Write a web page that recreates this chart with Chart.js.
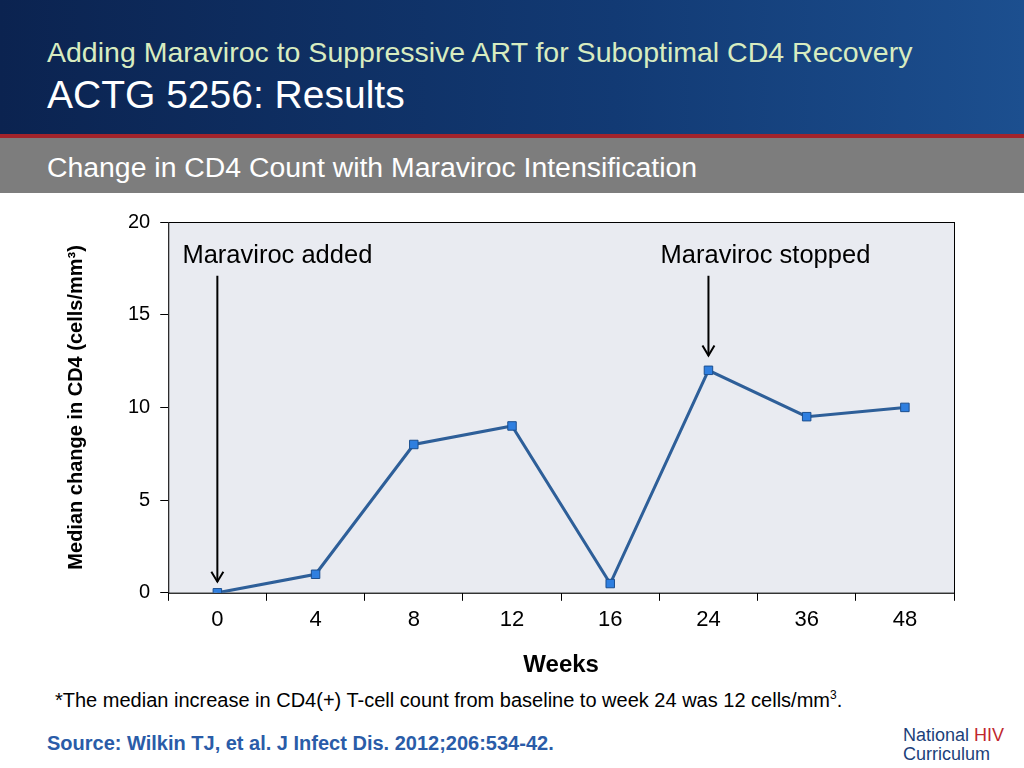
<!DOCTYPE html>
<html><head><meta charset="utf-8">
<script src="https://cdn.jsdelivr.net/npm/chart.js@4"></script>
<style>
body{margin:0;width:1024px;height:768px;position:relative;background:#fff;font-family:"Liberation Sans",Arial,sans-serif;overflow:hidden}
#hdr{position:absolute;left:0;top:0;width:1024px;height:134px;background:linear-gradient(90deg,#0b2350 0%,#123a74 60%,#1c4f8f 100%)}
#t1{position:absolute;left:47px;top:36px;font-size:28.5px;color:#d8ecc0}
#t2{position:absolute;left:47px;top:73px;font-size:39px;color:#fff}
#red{position:absolute;left:0;top:134px;width:1024px;height:4px;background:#a3242b}
#sub{position:absolute;left:0;top:138px;width:1024px;height:55px;background:#7d7d7d}
#sub span{position:absolute;left:47px;top:13px;font-size:28.4px;color:#fff}
#wrap{position:absolute;left:0;top:200px;width:1024px;height:484px}
#note{position:absolute;left:55px;top:688px;font-size:20px;color:#000}
#src{position:absolute;left:47px;top:732px;font-size:20px;font-weight:bold;color:#2a5ca8}
#logo{position:absolute;left:903px;top:726px;font-size:18px;line-height:19px;color:#1c3f7a}
</style></head><body>
<div id="hdr"><div id="t1">Adding Maraviroc to Suppressive ART for Suboptimal CD4 Recovery</div><div id="t2">ACTG 5256: Results</div></div>
<div id="red"></div>
<div id="sub"><span>Change in CD4 Count with Maraviroc Intensification</span></div>
<div id="wrap"><canvas id="c"></canvas></div>
<div id="note">*The median increase in CD4(+) T-cell count from baseline to week 24 was 12 cells/mm<sup style="font-size:12px">3</sup>.</div>
<div id="src">Source: Wilkin TJ, et al. J Infect Dis. 2012;206:534-42.</div>
<div id="logo">National <span style="color:#c0272d">HIV</span><br>Curriculum</div>
<script>
const weeks = ['0','4','8','12','16','24','36','48'];
const medianChange = [0, 1, 8, 9, 0.5, 12, 9.5, 10];
const yTicks = [0, 5, 10, 15, 20];
const notes = [
  {label: 'Maraviroc added', idx: 0, from: 17.1, to: 0.6},
  {label: 'Maraviroc stopped', idx: 5, from: 17.1, to: 12.8}
];

const annot = {
  id: 'annot',
  beforeDatasetsDraw(chart) {
    const a = chart.chartArea, ctx = chart.ctx;
    ctx.save();
    ctx.fillStyle = '#e9ebf1';
    ctx.fillRect(a.left, a.top, a.right - a.left, a.bottom - a.top);
    ctx.strokeStyle = '#000'; ctx.lineWidth = 1;
    ctx.strokeRect(a.left + 0.5, a.top + 0.5, a.right - a.left, a.bottom - a.top);
    ctx.restore();
  },
  afterDatasetsDraw(chart) {
    const ctx = chart.ctx, x = chart.scales.x, y = chart.scales.y;
    ctx.save();
    ctx.font = '25.5px "Liberation Sans", Arial';
    ctx.fillStyle = '#000'; ctx.textAlign = 'center';
    notes.forEach(n => {
      const px = x.getPixelForValue(n.idx);
      const y0 = y.getPixelForValue(n.from), y1 = y.getPixelForValue(n.to);
      ctx.fillText(n.label, n.idx === 0 ? px + 60 : px + 57, y.getPixelForValue(17.8));
      ctx.strokeStyle = '#000'; ctx.lineWidth = 2;
      ctx.beginPath(); ctx.moveTo(px, y0); ctx.lineTo(px, y1); ctx.stroke();
      ctx.beginPath(); ctx.moveTo(px - 6, y1 - 10); ctx.lineTo(px, y1); ctx.lineTo(px + 6, y1 - 10); ctx.stroke();
    });
    ctx.restore();
  }
};

new Chart(document.getElementById('c'), {
  type: 'line',
  data: {
    labels: weeks,
    datasets: [{
      data: medianChange,
      borderColor: '#2e5f99', borderWidth: 3,
      pointStyle: 'rect', pointRadius: 6,
      pointBackgroundColor: '#2f7fe0', pointBorderColor: '#1c4f8f', pointBorderWidth: 1,
      tension: 0
    }]
  },
  options: {
    responsive: true, maintainAspectRatio: false, animation: false,
    layout: {padding: {left: 60, right: 70, top: 12, bottom: 0}},
    plugins: {legend: {display: false}, tooltip: {enabled: false}},
    scales: {
      x: {
        offset: true,
        grid: {display: true, drawOnChartArea: false, offset: true, tickLength: 8, color: '#000'},
        border: {color: '#000'},
        ticks: {color: '#000', font: {size: 22, family: 'Liberation Sans'}, padding: 6},
        title: {display: true, text: 'Weeks', color: '#000', font: {size: 24, weight: 'bold', family: 'Liberation Sans'}, padding: {top: 12}}
      },
      y: {
        min: 0, max: 20,
        afterBuildTicks: s => { s.ticks = yTicks.map(v => ({value: v})); },
        grid: {drawOnChartArea: false, tickLength: 8, color: '#000'},
        border: {color: '#000'},
        ticks: {color: '#000', font: {size: 20, family: 'Liberation Sans'}, padding: 10},
        title: {display: true, text: 'Median change in CD4 (cells/mm³)', color: '#000', font: {size: 20, weight: 'bold', family: 'Liberation Sans'}, padding: {bottom: 30}}
      }
    }
  },
  plugins: [annot]
});
</script>
</body></html>
